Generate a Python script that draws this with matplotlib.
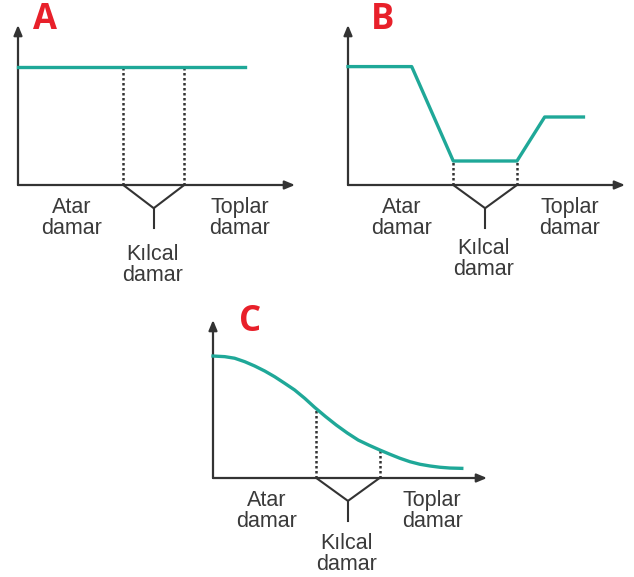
import matplotlib.pyplot as plt

# panel A: constant line
a_x = [0, 8.2]
a_y = [7.4, 7.4]
a_kilcal = [3.8, 6.0]

# panel B: drop in the capillaries, partial rise after
b_x = [0, 2.3, 3.8, 6.1, 7.1, 8.5]
b_y = [7.4, 7.4, 1.5, 1.5, 4.25, 4.25]
b_kilcal = [3.8, 6.1]

# panel C: steady decrease
c_x = [0, 0.43, 0.79, 1.16, 1.52, 1.89, 2.25, 2.62, 2.98, 3.35, 3.71, 4.1,
       4.5, 4.9, 5.3, 5.7, 6.09, 6.46, 6.82, 7.19, 7.55, 7.92, 8.28, 8.65, 9.08]
c_y = [7.72, 7.68, 7.58, 7.36, 7.09, 6.77, 6.41, 5.99, 5.57, 5.04, 4.47, 3.9,
       3.35, 2.85, 2.40, 2.07, 1.77, 1.50, 1.25, 1.03, 0.87, 0.76, 0.68, 0.63, 0.61]
c_kilcal = [3.77, 6.08]

letters = ['A', 'B', 'C']
lbl_left = 'Atar\ndamar'
lbl_mid = 'Kılcal\ndamar'
lbl_right = 'Toplar\ndamar'

teal = '#1fa898'
axcol = '#333333'
txtcol = '#3a3a3a'
red = '#e8202a'

W, H = 634, 577
fig = plt.figure(figsize=(W / 100, H / 100), dpi=100)


def panel(ox, oy, tx, ty, xs, ys, kil, letter, letter_pos, mid_top):
    ax = fig.add_axes([ox / W, 1 - oy / H, (tx - ox) / W, (oy - ty) / H])
    ax.set_xlim(0, 10)
    ax.set_ylim(0, 10)
    ax.axis('off')
    # axes with arrows
    arr = dict(arrowstyle='-|>,head_length=0.6,head_width=0.25', color=axcol, lw=1.6,
               shrinkA=0, shrinkB=0)
    ax.annotate('', xy=(10, 0), xytext=(0, 0), arrowprops=arr, annotation_clip=False)
    ax.annotate('', xy=(0, 10), xytext=(0, 0), arrowprops=arr, annotation_clip=False)
    # curve
    ax.plot(xs, ys, color=teal, lw=2.4, solid_joinstyle='round', clip_on=False, zorder=3)
    # dotted guides down to the axis
    for k in kil:
        yk = None
        for i in range(len(xs) - 1):
            if xs[i] <= k <= xs[i + 1]:
                f = (k - xs[i]) / (xs[i + 1] - xs[i])
                yk = ys[i] + f * (ys[i + 1] - ys[i])
                break
        ax.plot([k, k], [0, yk], color=axcol, lw=1.8, ls=(0, (1, 1)), clip_on=False)
    # bracket
    mid = (kil[0] + kil[1]) / 2
    ax.plot([kil[0], mid, kil[1]], [0, -1.45, 0], color=axcol, lw=1.5, clip_on=False)
    ax.plot([mid, mid], [-1.45, -2.7], color=axcol, lw=1.5, clip_on=False)
    # labels
    kw = dict(ha='center', va='top', fontsize=15.5, color=txtcol, family='Liberation Sans',
              linespacing=1.0, clip_on=False)
    ax.text(1.95, -0.75, lbl_left, **kw)
    ax.text(mid - 0.05, mid_top, lbl_mid, **kw)
    ax.text(8.0, -0.75, lbl_right, **kw)
    ax.text(letter_pos[0], letter_pos[1], letter, ha='center', va='center', fontsize=25,
            color=red, family='Open Sans', fontweight='bold', clip_on=False)
    return ax


panel(18, 185, 295, 25, a_x, a_y, a_kilcal, letters[0], (0.97, 10.3), -3.7)
panel(348, 185, 625, 25, b_x, b_y, b_kilcal, letters[1], (1.23, 10.3), -3.3)
panel(213, 478, 487, 320, c_x, c_y, c_kilcal, letters[2], (1.35, 9.9), -3.5)

fig.savefig('out.png', dpi=100)
